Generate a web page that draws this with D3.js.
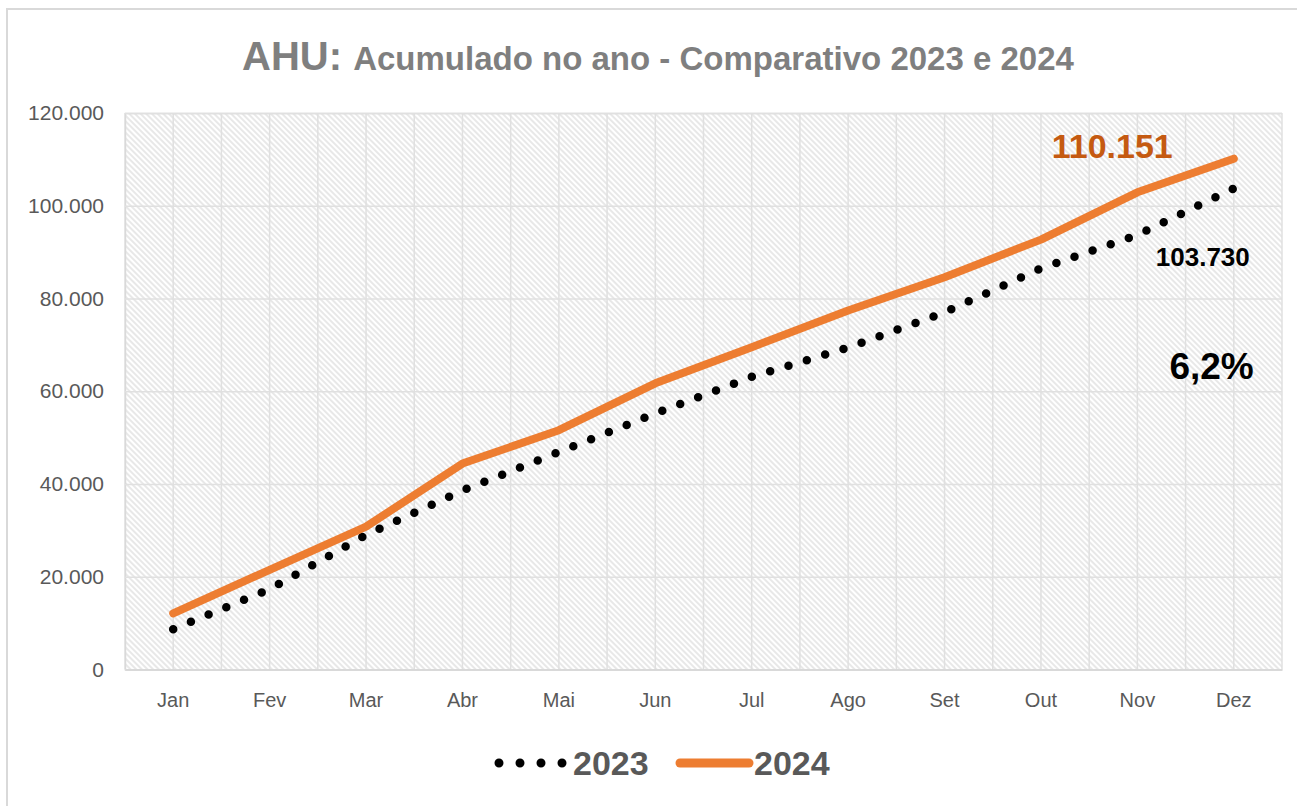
<!DOCTYPE html>
<html>
<head>
<meta charset="utf-8">
<script src="https://cdn.jsdelivr.net/npm/d3@7"></script>
<style>
  body { margin: 0; background: #fff; }
  text { font-family: "Liberation Sans", Arial, sans-serif; }
</style>
</head>
<body>
<div id="chart"></div>
<script>
// data
var months = ["Jan","Fev","Mar","Abr","Mai","Jun","Jul","Ago","Set","Out","Nov","Dez"]
var acum2023 = [8700, 17300, 29000, 38600, 46900, 55200, 63100, 69400, 77000, 86500, 93700, 103730]
var acum2024 = [12100, 21500, 30800, 44400, 51600, 61700, 69500, 77400, 84600, 92700, 102900, 110151]
var yTicks = [0, 20000, 40000, 60000, 80000, 100000, 120000]
var seriesNames = ["2023", "2024"]
var variacao = "6,2%"

var W = 1297, H = 806
var pLeft = 125, pRight = 1282, pTop = 113, pBottom = 669.5

var fmt = d3.format(",.0f")
function ptbr(v) { return fmt(v).replace(/,/g, ".") }

var svg = d3.select("#chart").append("svg")
    .attr("width", W).attr("height", H)

// outer frame (only top and left edges are in view)
svg.append("path")
    .attr("d", "M7," + H + " V9 H" + W)
    .attr("fill", "none").attr("stroke", "#d9d9d9").attr("stroke-width", 2)

// hatch pattern for the plot area
var defs = svg.append("defs")
var pat = defs.append("pattern")
    .attr("id", "hatch")
    .attr("patternUnits", "userSpaceOnUse")
    .attr("width", 4).attr("height", 4)
    .attr("patternTransform", "rotate(45)")
pat.append("rect").attr("width", 4).attr("height", 4).attr("fill", "#fff")
pat.append("line")
    .attr("x1", 0).attr("y1", 1).attr("x2", 4).attr("y2", 1)
    .attr("stroke", "#d6d6d6").attr("stroke-width", 1.1)

var x = d3.scaleBand().domain(months).range([pLeft, pRight])
var y = d3.scaleLinear().domain([0, 120000]).range([pBottom, pTop])
var cx = function(m) { return x(m) + x.bandwidth() / 2 }

svg.append("rect")
    .attr("x", pLeft).attr("y", pTop)
    .attr("width", pRight - pLeft).attr("height", pBottom - pTop)
    .attr("fill", "url(#hatch)")

// gridlines
var vLines = []
months.forEach(function(m) { vLines.push(x(m)); vLines.push(cx(m)) })
vLines.push(pRight)
svg.append("g").selectAll("line")
    .data(vLines).enter().append("line")
    .attr("x1", function(d) { return d }).attr("x2", function(d) { return d })
    .attr("y1", pTop).attr("y2", pBottom)
    .attr("stroke", "#e0e0e0").attr("stroke-width", 1.5)

var yAxis = d3.axisLeft(y).tickValues(yTicks).tickSize(-(pRight - pLeft)).tickFormat(ptbr)
var gy = svg.append("g")
    .attr("transform", "translate(" + pLeft + ",0)")
    .call(yAxis)
gy.select(".domain").attr("stroke", "#d9d9d9").attr("stroke-width", 1.5)
gy.selectAll(".tick line").attr("stroke", "#e0e0e0").attr("stroke-width", 1.5)
gy.selectAll(".tick text")
    .attr("x", -21)
    .attr("fill", "#595959")
    .style("font-size", "21px")

var xAxis = d3.axisBottom(x).tickSize(0)
var gx = svg.append("g")
    .attr("transform", "translate(0," + pBottom + ")")
    .call(xAxis)
gx.select(".domain").attr("stroke", "#d9d9d9").attr("stroke-width", 2)
gx.selectAll(".tick text")
    .attr("y", 23)
    .attr("fill", "#595959")
    .style("font-size", "20px")

// lines
var line = d3.line()
    .x(function(d, i) { return cx(months[i]) })
    .y(function(d) { return y(d) })

var dots = svg.append("path")
    .datum(acum2023)
    .attr("d", line)
    .attr("fill", "none")
    .attr("stroke", "#000")
    .attr("stroke-width", 8.5)
    .attr("stroke-linecap", "round")
// spread the dots so one lands on each end (tiny shrink so the last one is kept)
var len = dots.node().getTotalLength()
var gap = len / Math.round(len / 19.2) - 0.02
dots.attr("stroke-dasharray", "0 " + gap)

svg.append("path")
    .datum(acum2024)
    .attr("d", line)
    .attr("fill", "none")
    .attr("stroke", "#ed7d31")
    .attr("stroke-width", 8)
    .attr("stroke-linecap", "round")
    .attr("stroke-linejoin", "round")

// labels on the last point
var last = months.length - 1
svg.append("text")
    .attr("x", cx(months[last]) - 61)
    .attr("y", y(acum2024[last]) - 1)
    .attr("text-anchor", "end")
    .attr("fill", "#c55a11")
    .style("font-size", "34px").style("font-weight", "bold")
    .text(ptbr(acum2024[last]))

svg.append("text")
    .attr("x", cx(months[last]) + 16)
    .attr("y", y(acum2023[last]) + 78)
    .attr("text-anchor", "end")
    .attr("fill", "#000")
    .style("font-size", "26px").style("font-weight", "bold")
    .text(ptbr(acum2023[last]))

svg.append("text")
    .attr("x", cx(months[last]) + 20)
    .attr("y", y(acum2023[last]) + 191)
    .attr("text-anchor", "end")
    .attr("fill", "#000")
    .style("font-size", "37px").style("font-weight", "bold")
    .text(variacao)

// title
var title = svg.append("text")
    .attr("x", 658).attr("y", 70)
    .attr("text-anchor", "middle")
    .attr("fill", "#7f7f7f")
    .style("font-weight", "bold")
title.append("tspan").style("font-size", "40px").text("AHU: ")
title.append("tspan").style("font-size", "33px").text("Acumulado no ano - Comparativo 2023 e 2024")

// legend
var lg = svg.append("g")
lg.append("line")
    .attr("x1", 499).attr("x2", 563).attr("y1", 763).attr("y2", 763)
    .attr("stroke", "#000").attr("stroke-width", 9)
    .attr("stroke-linecap", "round").attr("stroke-dasharray", "0 21")
lg.append("text")
    .attr("x", 573).attr("y", 775)
    .attr("fill", "#595959")
    .style("font-size", "34px").style("font-weight", "bold")
    .text(seriesNames[0])
lg.append("line")
    .attr("x1", 680).attr("x2", 749).attr("y1", 763).attr("y2", 763)
    .attr("stroke", "#ed7d31").attr("stroke-width", 9)
    .attr("stroke-linecap", "round")
lg.append("text")
    .attr("x", 754).attr("y", 775)
    .attr("fill", "#595959")
    .style("font-size", "34px").style("font-weight", "bold")
    .text(seriesNames[1])
</script>
</body>
</html>
